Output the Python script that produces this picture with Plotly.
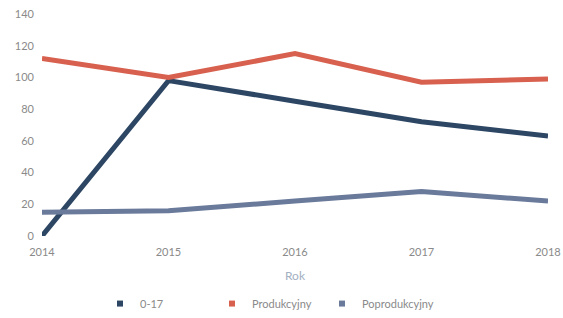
import plotly.graph_objects as go

years = [2014, 2015, 2016, 2017, 2018]
age_0_17 = [0, 98, 85, 72, 63]
produkcyjny = [112, 100, 115, 97, 99]
poprodukcyjny = [15, 16, 22, 28, 22]
y_ticks = [0, 20, 40, 60, 80, 100, 120, 140]

series = [
    ("0-17", age_0_17, "#2c4664", "legend"),
    ("Produkcyjny", produkcyjny, "#d8604e", "legend2"),
    ("Poprodukcyjny", poprodukcyjny, "#6a7a9b", "legend3"),
]

fig = go.Figure()
for name, vals, color, lg in series:
    fig.add_trace(go.Scatter(x=years, y=vals, mode="lines", name=name,
                             line=dict(color=color, width=5),
                             showlegend=False, legendgroup=name))
    fig.add_trace(go.Scatter(x=[None], y=[None], mode="markers", name=name,
                             marker=dict(symbol="square", size=6, color=color),
                             showlegend=True, legendgroup=name, legend=lg))

legend_common = dict(orientation="h", xanchor="left", yanchor="top",
                     xref="container", yref="container", y=0.091,
                     font=dict(size=11, color="#8a8a8a"), itemwidth=30,
                     bgcolor="rgba(0,0,0,0)")

fig.update_layout(
    template="none",
    width=563, height=318,
    margin=dict(l=42, r=15, t=14, b=82, pad=0),
    paper_bgcolor="white", plot_bgcolor="white",
    font=dict(family="Lato, sans-serif", size=11, color="#8a8a8a"),
    xaxis=dict(range=[2014, 2018], tickvals=years, showgrid=False, zeroline=False,
               showline=False, ticks="", automargin=False, ticklabelstandoff=8,
               title=dict(text="Rok", font=dict(color="#a3b0c2", size=12), standoff=14)),
    yaxis=dict(range=[0, 140], tickvals=y_ticks, showgrid=False,
               zeroline=False, showline=False, ticks="", automargin=False, ticklabelstandoff=7),
    legend=dict(legend_common, x=100 / 563),
    legend2=dict(legend_common, x=212 / 563),
    legend3=dict(legend_common, x=322 / 563),
)
fig.write_html("out.html", config={"displayModeBar": False},
               post_script="document.body.style.margin='0';")
